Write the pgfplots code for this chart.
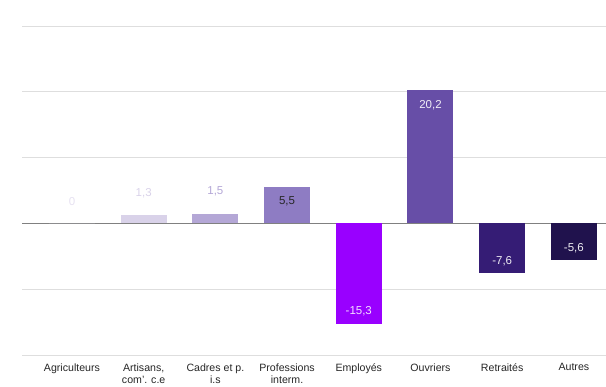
\documentclass[border=0pt]{standalone}
\usepackage{pgfplots}
\pgfplotsset{compat=1.18}
\usepackage{fontspec}
\setmainfont{Liberation Sans}
\definecolor{c0}{HTML}{E6E1F1}
\definecolor{c1}{HTML}{D9D2E9}
\definecolor{c2}{HTML}{B4A7D6}
\definecolor{c3}{HTML}{8E7CC3}
\definecolor{c4}{HTML}{9900FF}
\definecolor{c5}{HTML}{674EA7}
\definecolor{c6}{HTML}{351C75}
\definecolor{c7}{HTML}{20124D}
\begin{document}
\begin{tikzpicture}
\begin{axis}[
  scale only axis,
  width=584pt, height=329pt,
  xmin=-0.697, xmax=7.448,
  ymin=-20, ymax=30,
  ytick={-20,-10,10,20,30},
  yticklabels={},
  extra y ticks={0},
  extra y tick labels={},
  extra y tick style={grid style={color=black!50, line width=1.2pt}},
  ymajorgrids,
  grid style={color=black!13, line width=0.9pt},
  axis line style={draw=none},
  major tick length=0pt,
  xtick={0,1,2,3,4,5,6,7},
  xticklabels={Agriculteurs,{Artisans,\\com'. c.e},{Cadres et p.\\i.s},{Professions\\interm.},Employés,Ouvriers,Retraités,Autres},
  xticklabel style={align=center, font=\fontsize{10.6}{12}\selectfont, text=black!85, anchor=north, yshift=-5pt},
  ybar, bar width=46pt, bar shift=0pt,
  point meta=explicit symbolic,
  nodes near coords,
  nodes near coords style={font=\fontsize{11.5}{12}\selectfont, anchor=center},
]
\addplot[fill=c0, draw=none, nodes near coords style={text=c0, yshift=22pt}] coordinates {(0,0) [0]};
\addplot[fill=c1, draw=none, nodes near coords style={text=c1, yshift=22pt}] coordinates {(1,1.3) [1,3]};
\addplot[fill=c2, draw=none, nodes near coords style={text=c2, yshift=22pt}] coordinates {(2,1.5) [1,5]};
\addplot[fill=c3, draw=none, nodes near coords style={text=black!85, yshift=-14pt}] coordinates {(3,5.5) [5,5]};
\addplot[fill=c4, draw=none, nodes near coords style={text=white!88!c4, yshift=13pt}] coordinates {(4,-15.3) [-15,3]};
\addplot[fill=c5, draw=none, nodes near coords style={text=white!90!c5, yshift=-15pt}] coordinates {(5,20.2) [20,2]};
\addplot[fill=c6, draw=none, nodes near coords style={text=white!92!c6, yshift=12pt}] coordinates {(6,-7.6) [-7,6]};
\addplot[fill=c7, draw=none, nodes near coords style={text=white!92!c7, yshift=12pt}] coordinates {(7,-5.6) [-5,6]};
\end{axis}
\pgfresetboundingbox
\path[use as bounding box] (-22pt,-32pt) rectangle (584pt,355pt);
\end{tikzpicture}
\end{document}
